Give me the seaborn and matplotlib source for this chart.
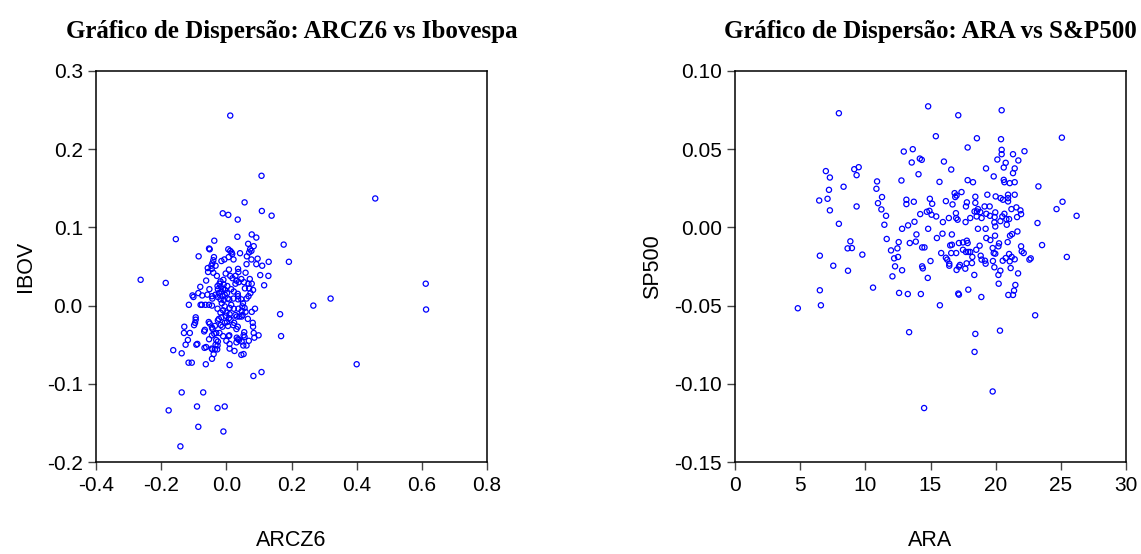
import matplotlib
matplotlib.use("Agg")
import matplotlib.pyplot as plt
import seaborn as sns
import pandas as pd
from matplotlib.ticker import FormatStrFormatter

sns.set_theme(style="white")
plt.rcParams['font.family'] = ['Liberation Sans', 'DejaVu Sans']
plt.rcParams['axes.unicode_minus'] = False

# ---------------- Left panel: ARCZ6 vs IBOV ----------------
arcz6 = [
    0.012, 0.108, 0.457, 0.056, -0.011, 0.006, 0.109, 0.139, 0.035, -0.155,
    0.034, 0.078, 0.092, -0.037, 0.067, 0.176, 0.192, 0.130, -0.263, -0.186,
    0.612, 0.613, 0.267, 0.320, 0.400, 0.165, 0.168, 0.116, 0.129, 0.104,
    0.110, -0.085, -0.053, -0.051, 0.084, 0.073, 0.077, 0.070, 0.042,
    0.063, 0.077, 0.062, 0.092, 0.096, 0.006, 0.012, 0.016, 0.018, 0.022,
    0.007, -0.006, -0.015, -0.038, -0.040, -0.043, -0.046, -0.033, -0.057,
    -0.056, -0.045, -0.040, -0.029, -0.062, -0.052, -0.080, -0.086, -0.104,
    -0.101, -0.074, -0.058, -0.044, -0.043, -0.115, -0.079, -0.075, -0.064,
    -0.053, -0.044, -0.027, -0.094, -0.094, -0.096, -0.099, -0.129, -0.130,
    -0.112, -0.118, -0.125, -0.089, -0.092, -0.054, -0.051, -0.044, -0.042,
    -0.037, -0.044, -0.035, -0.066, -0.068, -0.053, -0.031, -0.026, -0.033,
    -0.027, -0.067, -0.062, -0.045, -0.043, -0.035, -0.028, -0.044, -0.039,
    -0.063, -0.163, -0.137, -0.116, -0.106, 0.010, 0.025, 0.010, 0.010,
    0.000, 0.032, 0.036, 0.031, 0.039, 0.047, 0.052, 0.062, 0.069, 0.055,
    0.053, 0.056, 0.084, 0.086, 0.099, 0.081, 0.082, 0.066, 0.047, 0.050,
    0.078, 0.088, 0.046, 0.053, 0.083, 0.108, -0.137, -0.071, -0.177,
    -0.090, -0.027, -0.005, -0.086, -0.009, -0.141,
    0.008, 0.036, 0.037, 0.059, -0.002, 0.012, 0.028, 0.046, 0.072, -0.009,
    -0.018, 0.019, 0.031, -0.021, -0.027, -0.017, -0.010, -0.004, 0.003,
    0.028, 0.038, 0.054, 0.068, 0.078, 0.070, 0.082, 0.057, 0.035, 0.036,
    0.074, 0.068, 0.062, 0.004, 0.009, 0.022, 0.036, -0.012, -0.008, -0.014,
    -0.005, 0.010, 0.023, 0.037, 0.049, 0.056, 0.047, 0.059, -0.010, -0.018,
    0.000, 0.010, 0.028, 0.032, 0.040, -0.002, -0.015, 0.008, 0.013, 0.002,
    -0.005, 0.024, 0.021, 0.005, -0.012, -0.017, -0.023, -0.026, 0.009,
    0.007, -0.010, -0.021, -0.031, 0.031, 0.035,
    -0.026, -0.023, -0.015, -0.005, -0.026, -0.033, -0.018, -0.008, 0.002,
    0.015, 0.023, 0.046, 0.051, 0.015,
]
ibov = [
    0.243, 0.166, 0.137, 0.132, 0.118, 0.116, 0.121, 0.115, 0.110, 0.085,
    0.088, 0.091, 0.087, 0.083, 0.079, 0.078, 0.056, 0.056, 0.033, 0.029,
    0.028, -0.005, 0.000, 0.009, -0.075, -0.011, -0.039, 0.026, 0.038, 0.039,
    0.051, 0.063, 0.073, 0.072, 0.076, 0.072, 0.070, 0.068, 0.067,
    0.063, 0.059, 0.053, 0.053, 0.060, 0.072, 0.070, 0.068, 0.066, 0.059,
    0.062, 0.059, 0.057, 0.062, 0.058, 0.054, 0.051, 0.051, 0.048,
    0.043, 0.047, 0.042, 0.038, 0.032, 0.021, 0.024, 0.016, 0.013,
    0.011, 0.013, 0.014, 0.012, 0.009, 0.001, 0.001, 0.001, 0.001,
    0.001, 0.000, -0.004, -0.015, -0.018, -0.022, -0.025, -0.027, -0.035,
    -0.035, -0.044, -0.050, -0.049, -0.050, -0.021, -0.023, -0.028, -0.030,
    -0.036, -0.038, -0.026, -0.031, -0.033, -0.043, -0.044, -0.046, -0.050,
    -0.051, -0.054, -0.053, -0.055, -0.056, -0.056, -0.056, -0.068, -0.062,
    -0.075, -0.057, -0.061, -0.073, -0.073, -0.076, -0.058, -0.055, -0.049,
    -0.045, -0.041, -0.043, -0.047, -0.044, -0.046, -0.051, -0.051, -0.045, -0.034,
    -0.038, -0.040, -0.035, -0.041, -0.038, -0.022, -0.027, -0.017, -0.014, -0.012,
    -0.008, -0.004, -0.063, -0.062, -0.090, -0.085, -0.111, -0.111, -0.134,
    -0.129, -0.131, -0.129, -0.155, -0.161, -0.180,
    0.046, 0.047, 0.043, 0.042, 0.041, 0.038, 0.038, 0.034, 0.034, 0.033,
    0.031, 0.035, 0.032, 0.028, 0.025, 0.024, 0.021, 0.020, 0.025,
    0.028, 0.030, 0.030, 0.028, 0.028, 0.022, 0.020, 0.022, 0.015, 0.012,
    0.016, 0.012, 0.009, 0.009, 0.008, 0.009, 0.008, 0.012, 0.007, 0.003,
    -0.001, -0.003, -0.004, -0.004, -0.001, -0.003, -0.007, -0.008, -0.006, -0.009,
    -0.009, -0.011, -0.012, -0.014, -0.014, -0.013, -0.015, -0.016, -0.018, -0.021,
    -0.022, -0.022, -0.025, -0.026, -0.027, -0.025, -0.017, -0.019, -0.038,
    -0.039, -0.039, -0.035, -0.035, -0.030, -0.027,
    0.021, 0.016, 0.018, 0.014, 0.011, 0.014, 0.008, 0.027, 0.016,
    0.021, 0.018, 0.008, 0.003, 0.001,
]

# ---------------- Right panel: ARA vs SP500 ----------------
ara = [
    7.97, 14.82, 17.13, 20.46, 15.41, 18.56, 20.41, 25.08, 12.95, 13.64, 17.85,
    6.97, 7.28, 9.15, 9.49, 9.33, 8.33, 7.21, 6.46, 7.10, 7.28, 7.97, 9.33,
    10.90, 10.85, 11.28, 10.97, 11.23, 11.59, 11.46,
    20.46, 20.46, 20.13, 20.77, 21.33, 22.21, 21.74, 20.62, 21.46, 21.33,
    19.26, 19.85, 13.56, 14.18, 14.33, 16.03, 16.59, 14.08, 15.69, 17.85,
    18.26, 12.77, 20.62, 20.67, 21.08, 21.46, 23.28,
    13.15, 13.15, 13.72, 14.95, 15.13, 16.18, 16.69, 16.85, 17.00, 17.38,
    16.90, 17.79, 17.72, 18.44, 18.44, 19.15, 19.54, 19.36, 20.00, 20.38,
    20.56, 20.95, 20.95, 20.95, 21.46,
    14.21, 14.72, 14.92, 15.08, 15.44, 15.95, 16.41, 16.95, 16.97, 17.08,
    17.69, 18.05, 18.64, 18.56, 18.38, 18.82, 18.92, 18.54, 19.28, 19.56,
    19.97, 19.92, 19.90, 19.97, 20.36, 20.51, 20.67, 20.82, 21.03, 21.21,
    21.59, 21.90, 21.95, 21.64, 20.85, 23.21, 24.67, 25.13, 26.21,
    12.82, 13.28, 13.77, 14.82, 15.49, 15.92, 16.64, 18.64, 19.23, 19.95,
    19.28, 19.59, 20.26, 20.92, 21.26, 21.67, 21.10,
    11.64, 12.56, 13.41, 13.87, 13.92, 14.36, 14.54, 12.46, 11.97, 12.21,
    12.51, 12.28, 12.82, 12.08, 15.00, 14.36, 14.41, 14.79, 15.82, 16.18,
    16.28, 16.44, 16.44, 16.51, 16.59, 16.64, 16.97, 17.49, 17.18, 17.49,
    17.79, 17.85, 17.72, 17.90, 18.05, 18.21, 18.51, 18.77, 18.85, 18.92,
    19.18, 19.23, 19.77, 19.85, 19.97, 20.21, 19.79, 19.90, 20.36, 20.21,
    20.54, 20.77, 21.03, 21.23, 21.08, 21.46, 21.15, 21.72, 21.95, 22.00,
    22.15, 22.59, 22.69, 23.56, 25.46, 18.18, 17.77, 17.67, 17.26, 17.00, 17.18,
    6.51, 7.54, 8.64, 8.85, 8.97, 9.77, 8.67, 6.51, 6.59, 4.82, 10.59, 12.59,
    13.26, 14.26, 15.72, 17.13, 17.18, 17.90, 18.36, 18.90, 20.23, 20.97,
    21.33, 21.41, 21.51, 23.03,
    13.36, 18.44, 20.33, 18.38, 19.77, 14.51,
]
sp500 = [
    0.0730, 0.0774, 0.0717, 0.0749, 0.0583, 0.0570, 0.0564, 0.0574, 0.0485, 0.0500, 0.0511,
    0.0360, 0.0319, 0.0372, 0.0385, 0.0334, 0.0260, 0.0240, 0.0172, 0.0183, 0.0109, 0.0023, 0.0134,
    0.0294, 0.0247, 0.0194, 0.0155, 0.0115, 0.0074, 0.0017,
    0.0496, 0.0468, 0.0434, 0.0413, 0.0468, 0.0487, 0.0428, 0.0383, 0.0377, 0.0347,
    0.0377, 0.0326, 0.0415, 0.0440, 0.0432, 0.0421, 0.0370, 0.0340, 0.0291, 0.0302,
    0.0289, 0.0300, 0.0304, 0.0289, 0.0283, 0.0289, 0.0262,
    0.0177, 0.0149, 0.0164, 0.0183, 0.0151, 0.0168, 0.0147, 0.0219, 0.0204, 0.0226,
    0.0194, 0.0160, 0.0134, 0.0196, 0.0157, 0.0134, 0.0134, 0.0209, 0.0198, 0.0187,
    0.0177, 0.0209, 0.0187, 0.0166, 0.0209,
    0.0085, 0.0100, 0.0106, 0.0081, 0.0070, 0.0034, 0.0060, 0.0091, 0.0060, 0.0049,
    0.0034, 0.0060, 0.0117, 0.0102, 0.0102, 0.0098, 0.0060, 0.0070, 0.0087, 0.0074,
    0.0096, 0.0066, 0.0032, 0.0006, 0.0040, 0.0070, 0.0087, 0.0053, 0.0053, 0.0117,
    0.0128, 0.0109, 0.0085, 0.0066, 0.0017, 0.0028, 0.0117, 0.0164, 0.0074,
    -0.0009, 0.0013, 0.0036, -0.0009, -0.0068, -0.0040, -0.0045, -0.0009, -0.0009, -0.0053,
    -0.0068, -0.0081, -0.0102, -0.0094, -0.0043, -0.0026, -0.0053,
    -0.0074, -0.0094, -0.0100, -0.0091, -0.0045, -0.0128, -0.0128, -0.0134, -0.0147, -0.0198,
    -0.0189, -0.0249, -0.0274, -0.0313, -0.0215, -0.0249, -0.0262, -0.0323, -0.0164, -0.0194,
    -0.0206, -0.0232, -0.0245, -0.0115, -0.0164, -0.0111, -0.0164, -0.0143, -0.0100, -0.0096,
    -0.0085, -0.0100, -0.0157, -0.0157, -0.0157, -0.0189, -0.0143, -0.0117, -0.0181, -0.0206,
    -0.0213, -0.0232, -0.0132, -0.0164, -0.0168, -0.0121, -0.0215, -0.0255, -0.0277, -0.0304,
    -0.0213, -0.0196, -0.0170, -0.0189, -0.0217, -0.0204, -0.0260, -0.0294, -0.0121, -0.0153,
    -0.0164, -0.0206, -0.0198, -0.0113, -0.0189, -0.0228, -0.0230, -0.0264, -0.0240, -0.0272, -0.0251,
    -0.0181, -0.0245, -0.0134, -0.0089, -0.0132, -0.0174, -0.0277, -0.0402, -0.0498, -0.0517, -0.0385, -0.0419,
    -0.0426, -0.0426, -0.0498, -0.0423, -0.0430, -0.0398, -0.0304, -0.0445, -0.0360, -0.0432,
    -0.0432, -0.0404, -0.0368, -0.0562,
    -0.0670, -0.0681, -0.0660, -0.0796, -0.1049, -0.1155,
]

left_x_ticks = [-0.4, -0.2, 0.0, 0.2, 0.4, 0.6, 0.8]
left_y_ticks = [-0.2, -0.1, 0.0, 0.1, 0.2, 0.3]
right_x_ticks = [0, 5, 10, 15, 20, 25, 30]
right_y_ticks = [-0.15, -0.10, -0.05, 0.00, 0.05, 0.10]

df_left = pd.DataFrame({"ARCZ6": arcz6, "IBOV": ibov})
df_right = pd.DataFrame({"ARA": ara, "SP500": sp500})

fig = plt.figure(figsize=(11.41, 5.54), dpi=100)
ax1 = fig.add_axes([96 / 1141, 92 / 554, 391 / 1141, 391 / 554])
ax2 = fig.add_axes([735 / 1141, 92 / 554, 391 / 1141, 391 / 554])

panels = [
    (ax1, df_left, "ARCZ6", "IBOV", "Gráfico de Dispersão: ARCZ6 vs Ibovespa",
     left_x_ticks, left_y_ticks, "%.1f", "%.1f"),
    (ax2, df_right, "ARA", "SP500", "Gráfico de Dispersão: ARA vs S&P500",
     right_x_ticks, right_y_ticks, "%d", "%.2f"),
]

for ax, df, xc, yc, title, xt, yt, xfmt, yfmt in panels:
    sns.scatterplot(data=df, x=xc, y=yc, ax=ax, marker="o", s=14,
                    facecolor="none", edgecolor="#0000ff", linewidth=0.9)
    ax.set_xlim(xt[0], xt[-1])
    ax.set_ylim(yt[0], yt[-1])
    ax.set_xticks(xt)
    ax.set_yticks(yt)
    ax.xaxis.set_major_formatter(FormatStrFormatter(xfmt))
    ax.yaxis.set_major_formatter(FormatStrFormatter(yfmt))
    for sp in ax.spines.values():
        sp.set_color("black")
        sp.set_linewidth(1.1)
        sp.set_visible(True)
    ax.tick_params(axis="both", which="major", direction="out", length=6,
                   width=1, color="#444444", labelsize=15, labelcolor="black",
                   bottom=True, left=True, top=False, right=False)
    ax.tick_params(axis="x", pad=4)
    ax.tick_params(axis="y", pad=3.5)
    ax.set_xlabel(xc, fontsize=15.5, color="black", labelpad=25)
    ax.set_ylabel(yc, fontsize=15.5, color="black", labelpad=8)
    ax.set_title(title, fontsize=18, fontweight="bold", color="black",
                 family=["Liberation Serif", "DejaVu Serif"], pad=24)
    ax.grid(False)

fig.savefig("out.png", dpi=100, facecolor="white")
